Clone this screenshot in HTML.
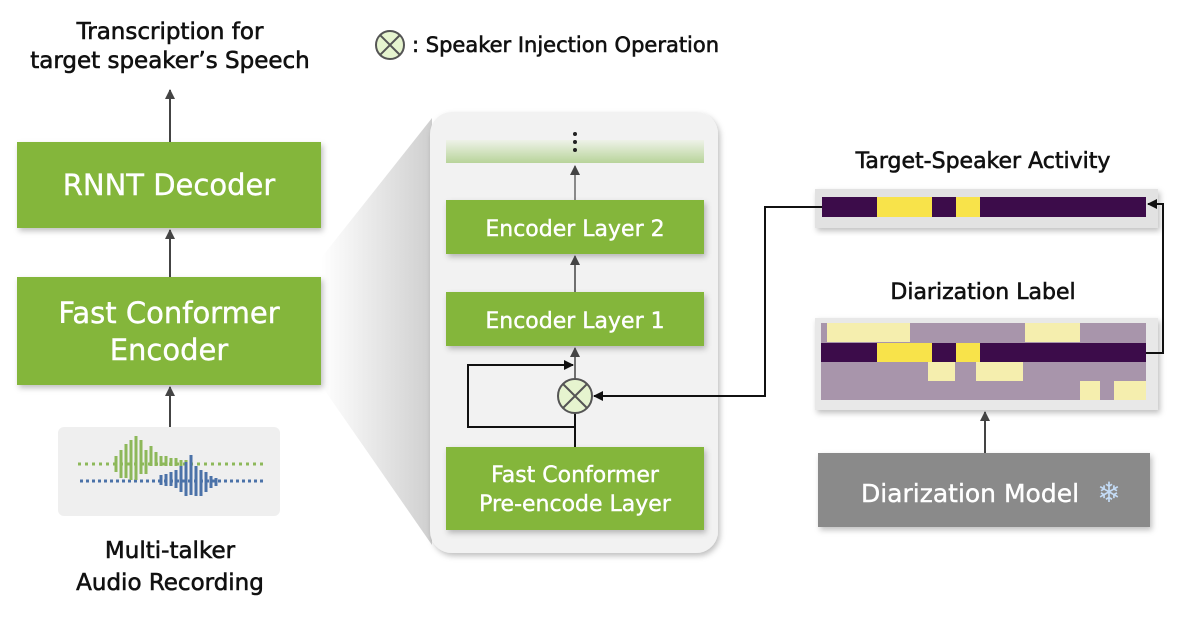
<!DOCTYPE html>
<html><head><meta charset="utf-8"><style>
html,body{margin:0;padding:0;background:#fff;}
svg{display:block;font-family:"DejaVu Sans","Liberation Sans",sans-serif;}
.k{fill:#111;stroke:#111;stroke-width:0.6;}
.w{fill:#fff;stroke:#fff;stroke-width:0.4;}
</style></head><body>
<svg width="1200" height="620" viewBox="0 0 1200 620" xmlns="http://www.w3.org/2000/svg">
<defs>
<marker id="ah" markerWidth="10" markerHeight="10" refX="9" refY="5" orient="auto" markerUnits="userSpaceOnUse"><path d="M0,0 L10,5 L0,10 z" fill="#444"/></marker>
<marker id="ahb" markerWidth="10" markerHeight="10" refX="9" refY="5" orient="auto" markerUnits="userSpaceOnUse"><path d="M0,0 L10,5 L0,10 z" fill="#111"/></marker>
<linearGradient id="fun" x1="0" x2="1" y1="0" y2="0"><stop offset="0" stop-color="#fff"/><stop offset="1" stop-color="#cfcfcf"/></linearGradient>
<linearGradient id="band" x1="0" x2="0" y1="0" y2="1"><stop offset="0" stop-color="#eef2e8"/><stop offset="1" stop-color="#b8d49a"/></linearGradient>
<filter id="sh" x="-10%" y="-10%" width="130%" height="130%"><feDropShadow dx="2" dy="3" stdDeviation="3" flood-color="#000" flood-opacity="0.25"/></filter>
</defs>

<text x="170" y="39" font-size="23" text-anchor="middle" class="k">Transcription  for</text>
<text x="170" y="68" font-size="23" text-anchor="middle" class="k">target speaker’s Speech</text>
<circle cx="390" cy="45" r="14" fill="#e6f4cf" stroke="#555" stroke-width="2"/>
<path d="M380,35 L400,55 M400,35 L380,55" stroke="#555" stroke-width="2"/>
<text x="412" y="52" font-size="21" class="k">: Speaker Injection Operation</text>

<polygon points="321,258 432,118 432,545 321,385" fill="url(#fun)"/>

<line x1="170" y1="142" x2="170" y2="90" stroke="#444" stroke-width="2" marker-end="url(#ah)"/>
<rect x="17" y="142" width="304" height="86" fill="#84b63a" filter="url(#sh)"/>
<text x="169" y="195" font-size="29" text-anchor="middle" class="w">RNNT Decoder</text>
<line x1="170" y1="277" x2="170" y2="230" stroke="#444" stroke-width="2" marker-end="url(#ah)"/>
<rect x="17" y="277" width="304" height="108" fill="#84b63a" filter="url(#sh)"/>
<text x="169" y="323" font-size="29" text-anchor="middle" class="w">Fast Conformer</text>
<text x="169" y="360" font-size="29" text-anchor="middle" class="w">Encoder</text>
<line x1="170" y1="427" x2="170" y2="387" stroke="#444" stroke-width="2" marker-end="url(#ah)"/>
<rect x="58" y="427" width="222" height="89" rx="6" fill="#efefef"/>
<g stroke-width="3">
<line x1="78" y1="464" x2="265" y2="464" stroke="#8db85a" stroke-dasharray="3,4"/>
<line x1="80" y1="481" x2="265" y2="481" stroke="#4b72a8" stroke-dasharray="3,3"/>
<path d="M116,456v16M121,450v28M126,444v34M131,440v40M136,436v44M141,440v34M146,450v24M151,446v20M156,452v14M161,456v10M166,456v10M171,458v8M176,458v8M181,460v6M186,460v6" stroke="#8db85a"/>
<path d="M161,475v10M166,474v12M171,472v14M176,470v18M181,466v26M186,462v34M191,455v40M196,466v30M201,470v26M206,472v20M211,476v12M216,478v8" stroke="#4b72a8"/>
</g>
<text x="170" y="558" font-size="23" text-anchor="middle" class="k">Multi-talker</text>
<text x="170" y="590" font-size="23" text-anchor="middle" class="k">Audio Recording</text>

<rect x="430" y="112" width="288" height="441" rx="22" fill="#f2f2f2" filter="url(#sh)"/>
<rect x="446" y="140" width="258" height="23" fill="url(#band)"/>
<circle cx="575" cy="134" r="2" fill="#222"/><circle cx="575" cy="142" r="2" fill="#222"/><circle cx="575" cy="150" r="2" fill="#222"/>
<line x1="575" y1="200" x2="575" y2="166" stroke="#666" stroke-width="1.5" marker-end="url(#ah)"/>
<rect x="446" y="200" width="258" height="54" fill="#84b63a" filter="url(#sh)"/>
<text x="575" y="236" font-size="22" text-anchor="middle" class="w">Encoder Layer 2</text>
<line x1="575" y1="292" x2="575" y2="256" stroke="#444" stroke-width="1.5" marker-end="url(#ah)"/>
<rect x="446" y="292" width="258" height="54" fill="#84b63a" filter="url(#sh)"/>
<text x="575" y="328" font-size="22" text-anchor="middle" class="w">Encoder Layer 1</text>
<line x1="575" y1="379" x2="575" y2="348" stroke="#444" stroke-width="1.5" marker-end="url(#ah)"/>
<polyline points="575,427 468,427 468,365 573,365" fill="none" stroke="#111" stroke-width="2" marker-end="url(#ahb)"/>
<line x1="575" y1="447" x2="575" y2="413" stroke="#111" stroke-width="2"/>
<circle cx="575" cy="396" r="17" fill="#e6f4cf" stroke="#555" stroke-width="2"/>
<path d="M563,384 L587,408 M587,384 L563,408" stroke="#555" stroke-width="2"/>
<rect x="446" y="447" width="258" height="83" fill="#84b63a" filter="url(#sh)"/>
<text x="575" y="482" font-size="22" text-anchor="middle" class="w">Fast Conformer</text>
<text x="575" y="511" font-size="22" text-anchor="middle" class="w">Pre-encode Layer</text>

<text x="983" y="168" font-size="22" text-anchor="middle" class="k">Target-Speaker Activity</text>
<rect x="815" y="189" width="343" height="39" fill="#e2e2e2" filter="url(#sh)"/>
<rect x="822" y="197" width="324" height="20" fill="#3c0c4a"/>
<rect x="877" y="197" width="55" height="20" fill="#f8e34a"/>
<rect x="956" y="197" width="24" height="20" fill="#f8e34a"/>

<text x="983" y="299" font-size="22" text-anchor="middle" class="k">Diarization Label</text>
<rect x="815" y="318" width="343" height="92" fill="#e8e8e8" filter="url(#sh)"/>
<rect x="821" y="323" width="325" height="77" fill="#a895ab"/>
<rect x="827" y="323" width="83" height="19" fill="#f5eeae"/>
<rect x="1025" y="323" width="55" height="19" fill="#f5eeae"/>
<rect x="821" y="343" width="325" height="19" fill="#3c0c4a"/>
<rect x="877" y="343" width="55" height="19" fill="#f8e34a"/>
<rect x="956" y="343" width="24" height="19" fill="#f8e34a"/>
<rect x="928" y="362" width="27" height="19" fill="#f5eeae"/>
<rect x="976" y="362" width="47" height="19" fill="#f5eeae"/>
<rect x="1080" y="381" width="20" height="19" fill="#f5eeae"/>
<rect x="1114" y="381" width="32" height="19" fill="#f5eeae"/>

<polyline points="1146,353 1163,353 1163,204 1148,204" fill="none" stroke="#111" stroke-width="2" marker-end="url(#ahb)"/>
<polyline points="822,207 765,207 765,396 594,396" fill="none" stroke="#111" stroke-width="2" marker-end="url(#ahb)"/>

<line x1="985" y1="453" x2="985" y2="412" stroke="#444" stroke-width="2" marker-end="url(#ah)"/>
<rect x="818" y="453" width="332" height="74" fill="#8a8a8a" filter="url(#sh)"/>
<text x="970" y="502" font-size="25" text-anchor="middle" class="w">Diarization Model</text>
<text x="1109" y="502" font-size="28" text-anchor="middle" fill="#c4dcf7">❄</text>
</svg>
</body></html>
